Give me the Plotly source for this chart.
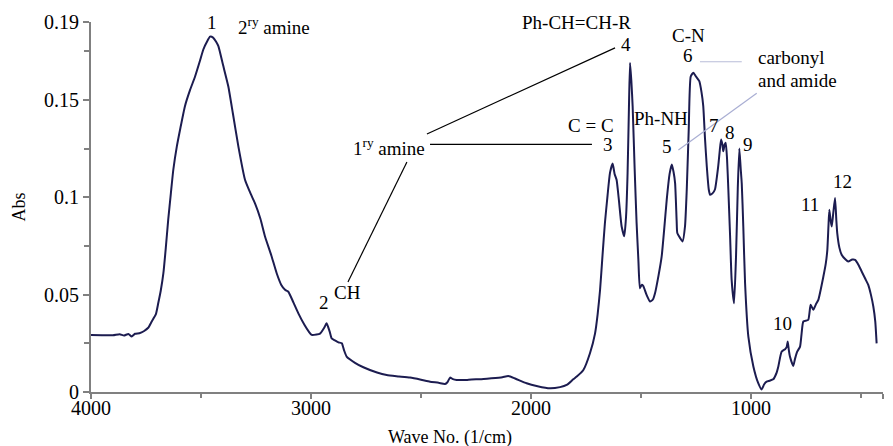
import plotly.graph_objects as go

# ---- data ----
wavenumber = [4000, 3950, 3900, 3870, 3850, 3830, 3815, 3800, 3780, 3760, 3740, 3724, 3705, 3694, 3683, 3671,
              3660, 3649, 3637, 3626, 3610, 3595, 3573, 3550, 3527, 3505, 3489, 3470, 3459, 3445, 3432, 3421,
              3400, 3376, 3355, 3330, 3300, 3275, 3255, 3230, 3209, 3180, 3156, 3135, 3118, 3103, 3080, 3058,
              3030, 3010, 2997, 2975, 2959, 2940, 2929, 2915, 2906, 2891, 2875, 2860, 2850, 2838, 2800, 2762,
              2700, 2656, 2600, 2550, 2500, 2459, 2420, 2391, 2380, 2368, 2355, 2338, 2290, 2250, 2232, 2180,
              2130, 2103, 2070, 2020, 1970, 1914, 1868, 1838, 1808, 1792, 1762, 1732, 1709, 1697, 1686, 1675,
              1664, 1652, 1641, 1629, 1620, 1611, 1600, 1588, 1576, 1568, 1561, 1555, 1550, 1544, 1538, 1529,
              1520, 1512, 1505, 1497, 1490, 1475, 1459, 1446, 1436, 1420, 1406, 1395, 1383, 1370, 1360, 1352,
              1345, 1338, 1335, 1322, 1311, 1300, 1292, 1283, 1274, 1262, 1250, 1235, 1225, 1217, 1209, 1201,
              1192, 1186, 1175, 1164, 1149, 1142, 1136, 1130, 1126, 1120, 1115, 1109, 1103, 1095, 1088, 1077,
              1068, 1060, 1053, 1047, 1042, 1035, 1027, 1012, 989, 967, 952, 940, 929, 915, 899, 885,
              876, 861, 845, 838, 833, 828, 823, 808, 800, 790, 777, 770, 762, 740, 729, 717,
              705, 694, 671, 660, 653, 648, 644, 638, 633, 626, 618, 612, 608, 598, 588, 570,
              558, 540, 527, 510, 497, 480, 467, 455, 444, 435, 429]
absorbance = [0.0293, 0.0292, 0.0291, 0.0297, 0.0290, 0.0298, 0.0285, 0.0299, 0.0302, 0.0312, 0.0330, 0.0362, 0.0400, 0.0458, 0.0520, 0.0610,
              0.0740, 0.0885, 0.1020, 0.1140, 0.1260, 0.1348, 0.1468, 0.1550, 0.1620, 0.1700, 0.1760, 0.1805, 0.1825, 0.1820, 0.1800, 0.1776,
              0.1680, 0.1570, 0.1430, 0.1260, 0.1090, 0.1020, 0.0970, 0.0890, 0.0799, 0.0700, 0.0610, 0.0550, 0.0525, 0.0515, 0.0460, 0.0405,
              0.0345, 0.0310, 0.0293, 0.0295, 0.0300, 0.0330, 0.0353, 0.0310, 0.0275, 0.0265, 0.0255, 0.0250, 0.0215, 0.0182, 0.0150, 0.0127,
              0.0100, 0.0087, 0.0080, 0.0074, 0.0063, 0.0053, 0.0047, 0.0041, 0.0050, 0.0074, 0.0066, 0.0062, 0.0062, 0.0066, 0.0065, 0.0070,
              0.0076, 0.0082, 0.0068, 0.0045, 0.0030, 0.0019, 0.0025, 0.0036, 0.0065, 0.0079, 0.0113, 0.0199, 0.0300, 0.0400, 0.0525, 0.0700,
              0.0868, 0.1010, 0.1125, 0.1173, 0.1120, 0.1090, 0.0980, 0.0850, 0.0800, 0.0900, 0.1125, 0.1450, 0.1690, 0.1600, 0.1468, 0.1150,
              0.0868, 0.0680, 0.0533, 0.0550, 0.0545, 0.0500, 0.0465, 0.0475, 0.0508, 0.0600, 0.0696, 0.0830, 0.0988, 0.1120, 0.1168, 0.1130,
              0.1073, 0.0880, 0.0816, 0.0790, 0.0773, 0.0850, 0.1040, 0.1350, 0.1620, 0.1640, 0.1620, 0.1596, 0.1540, 0.1468, 0.1300, 0.1159,
              0.1040, 0.1013, 0.1020, 0.1040, 0.1160, 0.1240, 0.1296, 0.1270, 0.1236, 0.1270, 0.1280, 0.1200, 0.1040, 0.0800, 0.0576, 0.0456,
              0.0700, 0.1050, 0.1250, 0.1150, 0.1070, 0.0850, 0.0560, 0.0284, 0.0130, 0.0045, 0.0013, 0.0040, 0.0053, 0.0058, 0.0065, 0.0095,
              0.0130, 0.0207, 0.0220, 0.0230, 0.0259, 0.0215, 0.0182, 0.0134, 0.0170, 0.0207, 0.0233, 0.0300, 0.0362, 0.0370, 0.0448, 0.0422,
              0.0450, 0.0473, 0.0593, 0.0660, 0.0730, 0.0850, 0.0936, 0.0880, 0.0850, 0.0920, 0.0996, 0.0880, 0.0816, 0.0740, 0.0705, 0.0680,
              0.0670, 0.0680, 0.0679, 0.0650, 0.0619, 0.0580, 0.0550, 0.0500, 0.0439, 0.0360, 0.0250]

x_tickvals = [4000, 3000, 2000, 1000, 400]
x_ticktext = ["4000", "3000", "2000", "1000", "400"]
x_minor = [3500, 2500, 1500, 500]
y_tickvals = [0, 0.05, 0.1, 0.15, 0.19]
y_ticktext = ["0", "0.05", "0.1", "0.15", "0.19"]
y_minor = [0.025, 0.075, 0.125, 0.175]
x_title = "Wave No. (1/cm)"
y_title = "Abs"

# peak / group labels: (text, wavenumber, absorbance, xanchor)
labels = [
    ("1", 3450, 0.1895, "center"),
    ("2<sup>ry</sup> amine", 3336, 0.1879, "left"),
    ("2", 2941, 0.0459, "center"),
    ("CH", 2832, 0.0510, "center"),
    ("1<sup>ry</sup> amine", 2815, 0.1260, "left"),
    ("Ph-CH=CH-R", 1791, 0.1896, "center"),
    ("4", 1568, 0.1782, "center"),
    ("C = C", 1727, 0.1366, "center"),
    ("3", 1651, 0.1273, "center"),
    ("Ph-NH", 1411, 0.1405, "center"),
    ("5", 1383, 0.1260, "center"),
    ("C-N", 1286, 0.1833, "center"),
    ("6", 1286, 0.1730, "center"),
    ("carbonyl", 973, 0.1719, "left"),
    ("and amide", 973, 0.1602, "left"),
    ("7", 1168, 0.1366, "center"),
    ("8", 1095, 0.1332, "center"),
    ("9", 1012, 0.1273, "center"),
    ("10", 859, 0.0353, "center"),
    ("11", 732, 0.0965, "center"),
    ("12", 584, 0.1080, "center"),
]

# leader lines: (x0, y0, x1, y1, colour)
leaders = [
    (2473, 0.1325, 1618, 0.1767, "black"),
    (2459, 0.1272, 1723, 0.1272, "black"),
    (2564, 0.1181, 2832, 0.0565, "black"),
    (1232, 0.1696, 1042, 0.1696, "#b8bcd8"),
    (1330, 0.1243, 974, 0.1534, "#a9aed3"),
]

FAMILY = "Times New Roman, Liberation Serif, serif"
fig = go.Figure()
fig.add_trace(go.Scatter(x=wavenumber, y=absorbance, mode="lines",
                         line=dict(color="#1c1c50", width=2, shape="spline", smoothing=0.5),
                         showlegend=False))

for text, xv, yv, anchor in labels:
    fig.add_annotation(x=xv, y=yv, xref="x", yref="y", text=text, showarrow=False,
                       xanchor=anchor, yanchor="middle", borderpad=0,
                       font=dict(family=FAMILY, size=19, color="black"))

# x-axis title (placed left of centre, as in the reference)
fig.add_annotation(x=0.4533, y=-0.124, xref="paper", yref="paper", text=x_title,
                   showarrow=False, xanchor="center", yanchor="middle", borderpad=0,
                   font=dict(family=FAMILY, size=18, color="black"))

for x0, y0, x1, y1, col in leaders:
    fig.add_shape(type="line", xref="x", yref="y", x0=x0, y0=y0, x1=x1, y1=y1,
                  line=dict(color=col, width=1.2))

tickfont = dict(family=FAMILY, size=20, color="black")
titlefont = dict(family=FAMILY, size=18, color="black")
# the page body has an 8 px default margin, so the figure is offset by 8 px
fig.update_layout(
    width=885, height=446,
    margin=dict(l=83, r=10, t=14, b=62),
    paper_bgcolor="white", plot_bgcolor="white",
    font=dict(family=FAMILY, size=18, color="black"),
    xaxis=dict(range=[4000, 400], automargin=False, showline=True, linecolor="#808080", linewidth=2,
               showgrid=False, zeroline=False,
               tickmode="array", tickvals=x_tickvals, ticktext=x_ticktext,
               ticks="outside", ticklen=5, tickcolor="#808080", tickwidth=1.5, ticklabelstandoff=-8,
               minor=dict(tickvals=x_minor, ticks="outside", ticklen=4, tickcolor="#808080", tickwidth=1.5),
               tickfont=tickfont),
    yaxis=dict(range=[0, 0.19], automargin=False, showline=True, linecolor="#808080", linewidth=2,
               showgrid=False, zeroline=False,
               tickmode="array", tickvals=y_tickvals, ticktext=y_ticktext,
               ticks="outside", ticklen=6, tickcolor="#808080", tickwidth=1.5,
               minor=dict(tickvals=y_minor, ticks="outside", ticklen=5, tickcolor="#808080", tickwidth=1.5),
               title=dict(text=y_title, standoff=14, font=titlefont),
               tickfont=tickfont),
)

fig.write_html("out.html")
